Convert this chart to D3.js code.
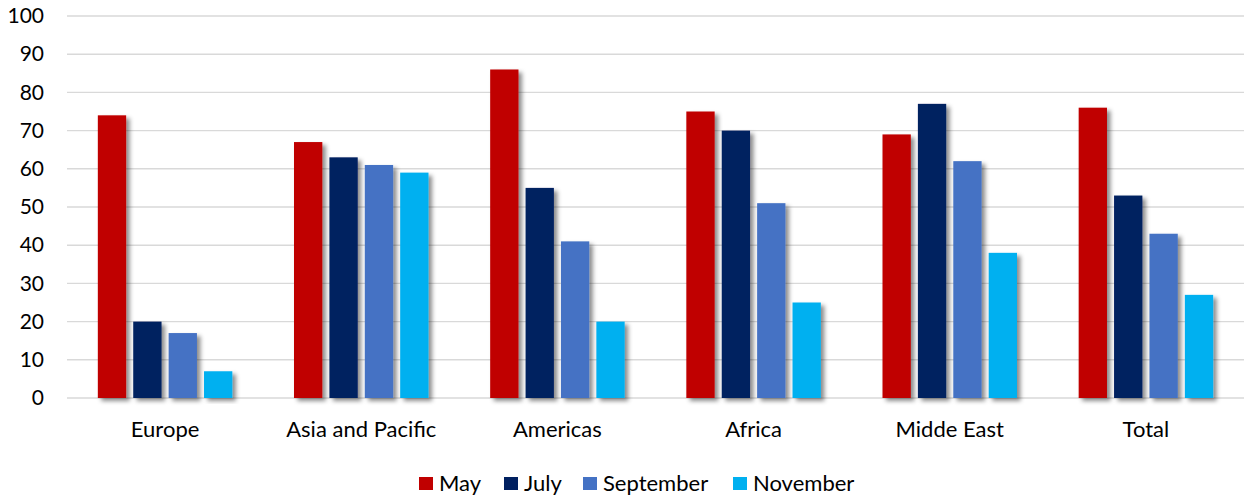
<!DOCTYPE html>
<html>
<head>
<meta charset="utf-8">
<script src="https://cdn.jsdelivr.net/npm/d3@7"></script>
<style>
  html, body { margin: 0; padding: 0; background: #fff; }
  svg { display: block; font-family: Lato, "Open Sans", sans-serif; }
</style>
</head>
<body>
<svg id="chart" width="1244" height="499"></svg>
<script>
// Regions on the x axis
const regions = ["Europe", "Asia and Pacific", "Americas", "Africa", "Midde East", "Total"];
// One series per month
const months = ["May", "July", "September", "November"];
const mayValues       = [74, 67, 86, 75, 69, 76];
const julyValues      = [20, 63, 55, 70, 77, 53];
const septemberValues = [17, 61, 41, 51, 62, 43];
const novemberValues  = [7, 59, 20, 25, 38, 27];
const yTicks = [0, 10, 20, 30, 40, 50, 60, 70, 80, 90, 100];
const colors = ["#C00000", "#002060", "#4472C4", "#00B0F0"];

const seriesValues = [mayValues, julyValues, septemberValues, novemberValues];

const svg = d3.select("#chart");
const margin = { left: 67, right: 0, top: 16, bottom: 101 };
const W = 1244, H = 499;

const x = d3.scaleBand().domain(regions).range([margin.left, W - margin.right]).paddingInner(0).paddingOuter(0);
const xInner = d3.scaleBand().domain(months).range([0, 134.5]).paddingInner(0.2).paddingOuter(0);
const y = d3.scaleLinear().domain([0, 100]).range([H - margin.bottom, margin.top]);

// Soft drop shadow under each bar
const defs = svg.append("defs");
const f = defs.append("filter").attr("id", "shadow")
  .attr("x", "-30%").attr("y", "-10%").attr("width", "180%").attr("height", "130%");
f.append("feDropShadow").attr("dx", 3.5).attr("dy", 3).attr("stdDeviation", 2.2)
  .attr("flood-color", "#000").attr("flood-opacity", 0.45);

// Horizontal gridlines
svg.append("g").selectAll("line").data(yTicks).join("line")
  .attr("x1", margin.left).attr("x2", W)
  .attr("y1", d => y(d)).attr("y2", d => y(d))
  .attr("stroke", "#d9d9d9").attr("stroke-width", 1.4);

// Y axis labels
const yAxis = d3.axisLeft(y).tickValues(yTicks).tickSize(0).tickPadding(0);
const gy = svg.append("g").attr("transform", "translate(44,0)").call(yAxis);
gy.select(".domain").remove();
gy.selectAll("text").attr("font-size", 21).attr("fill", "#000")
  .attr("font-family", "Lato, 'Open Sans', sans-serif");

// Bars
const groups = svg.append("g").selectAll("g").data(regions).join("g")
  .attr("transform", d => `translate(${x(d) + (x.bandwidth() - 134.5) / 2},0)`);

groups.selectAll("rect")
  .data((r, i) => months.map((m, k) => ({ month: m, value: seriesValues[k][i], k })))
  .join("rect")
  .attr("x", d => xInner(d.month))
  .attr("width", xInner.bandwidth())
  .attr("y", d => y(d.value))
  .attr("height", d => y(0) - y(d.value))
  .attr("fill", d => colors[d.k])
  .attr("filter", "url(#shadow)");

// X axis category labels
const xAxis = d3.axisBottom(x).tickSize(0).tickPadding(0);
const gx = svg.append("g").attr("transform", `translate(0,${y(0) + 23})`).call(xAxis);
gx.select(".domain").remove();
gx.selectAll("text").attr("font-size", 22).attr("fill", "#000")
  .attr("font-family", "Lato, 'Open Sans', sans-serif");

// Legend
const legendX = [419, 504, 583, 733];
const legend = svg.append("g").selectAll("g").data(months).join("g")
  .attr("transform", (d, i) => `translate(${legendX[i]},477)`);
legend.append("rect").attr("width", 14).attr("height", 13)
  .attr("fill", (d, i) => colors[i]);
legend.append("text").attr("x", 20).attr("y", 13.5)
  .attr("font-size", 22).attr("fill", "#000").text(d => d);
</script>
</body>
</html>
